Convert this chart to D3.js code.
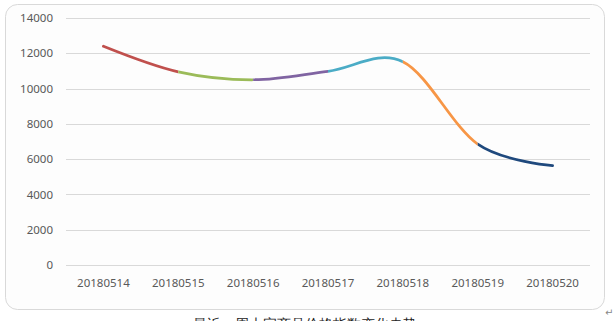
<!DOCTYPE html>
<html>
<head>
<meta charset="utf-8">
<script src="https://cdn.jsdelivr.net/npm/d3@7"></script>
<style>
  html, body { margin: 0; padding: 0; background: #ffffff; }
  svg { display: block; }
  text { font-family: "Noto Sans", "DejaVu Sans", sans-serif; }
</style>
</head>
<body>
<svg id="chart" width="613" height="321"></svg>
<script>
const categories = ["20180514", "20180515", "20180516", "20180517", "20180518", "20180519", "20180520"];
const values = [12400, 10950, 10500, 10980, 11520, 6850, 5630];
const segmentColors = ["#C0504D", "#9BBB59", "#8064A2", "#4BACC6", "#F79646", "#1F497D"];
const yTicks = [0, 2000, 4000, 6000, 8000, 10000, 12000, 14000];
const caption = "最近一周大宗商品价格指数变化走势";

const svg = d3.select("#chart");
const W = 613, H = 321;
const plot = { left: 66, right: 590, top: 18, bottom: 265 };

// outer frame
svg.append("rect")
  .attr("x", 5.5).attr("y", 4.5)
  .attr("width", 599).attr("height", 305)
  .attr("rx", 12).attr("ry", 12)
  .attr("fill", "#fdfdfd")
  .attr("stroke", "#d9d9d9").attr("stroke-width", 1);

const x = d3.scaleBand().domain(categories).range([plot.left, plot.right]).padding(0);
const y = d3.scaleLinear().domain([0, 14000]).range([plot.bottom, plot.top]);

// gridlines
svg.append("g").selectAll("line").data(yTicks).join("line")
  .attr("x1", plot.left).attr("x2", plot.right)
  .attr("y1", d => Math.round(y(d)) + 0.5).attr("y2", d => Math.round(y(d)) + 0.5)
  .attr("stroke", "#d9d9d9").attr("stroke-width", 1);

// y axis labels
const yAxis = d3.axisLeft(y).tickValues(yTicks).tickSize(0).tickPadding(0).tickFormat(d3.format("d"));
const gy = svg.append("g").attr("transform", `translate(${plot.left - 13},0)`).call(yAxis);
gy.select(".domain").remove();
gy.selectAll("text").attr("fill", "#595959").attr("font-size", 11.5)
  .attr("font-family", "\"Open Sans\", \"DejaVu Sans\", sans-serif");

// x axis labels
const xAxis = d3.axisBottom(x).tickSize(0).tickPadding(0);
const gx = svg.append("g").attr("transform", `translate(0,${plot.bottom + 14})`).call(xAxis);
gx.select(".domain").remove();
gx.selectAll("text").attr("fill", "#595959").attr("font-size", 11.5)
  .attr("font-family", "\"Open Sans\", \"DejaVu Sans\", sans-serif");

// smooth line, each segment coloured separately via clip paths
const pts = categories.map((c, i) => [x(c) + x.bandwidth() / 2, y(values[i])]);
const line = d3.line().curve(d3.curveCardinal.tension(0));
const pathD = line(pts);

const defs = svg.append("defs");
segmentColors.forEach((col, i) => {
  const x0 = pts[i][0], x1 = pts[i + 1][0];
  defs.append("clipPath").attr("id", "seg" + i)
    .append("rect")
    .attr("x", i === 0 ? x0 - 5 : x0).attr("y", 0)
    .attr("width", (x1 - x0) + (i === 0 || i === segmentColors.length - 1 ? 5 : 0))
    .attr("height", H);
  svg.append("path")
    .attr("d", pathD)
    .attr("fill", "none")
    .attr("stroke", col)
    .attr("stroke-width", 2.75)
    .attr("stroke-linecap", "round")
    .attr("clip-path", `url(#seg${i})`);
});

// paragraph mark
svg.append("text").attr("x", 605).attr("y", 316).attr("font-size", 10)
  .attr("fill", "#888").text("↵");

// cut-off caption
svg.append("text").attr("x", 193).attr("y", 329).attr("font-size", 14)
  .attr("fill", "#222")
  .attr("font-family", "\"Noto Sans CJK SC\", sans-serif")
  .text(caption);
</script>
</body>
</html>
